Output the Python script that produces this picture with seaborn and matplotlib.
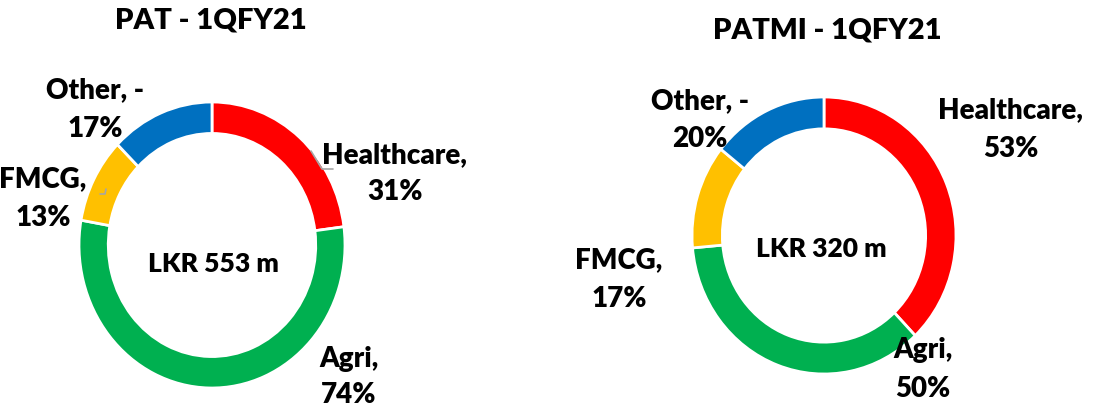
import matplotlib
matplotlib.use("Agg")
import matplotlib.pyplot as plt
import seaborn as sns

W, H = 1112, 410

categories = ["Healthcare", "Agri", "FMCG", "Other"]
colors = ["#FF0000", "#00B050", "#FFC000", "#0070C0"]

pat_values = [31, 74, 13, -17]
patmi_values = [53, 50, 17, -20]

titles = ["PAT - 1QFY21", "PATMI - 1QFY21"]
totals = ["LKR 553 m", "LKR 320 m"]

sns.set_theme(style="white")
plt.rcParams["font.family"] = ["Lato", "DejaVu Sans"]


def px(x, y):
    return x / W, 1 - y / H


# pixel layout of each donut: ring box, ring width, title, centre text, labels
layouts = [
    dict(box=(79, 103, 345, 389), ring=0.22, title=(211, 28), centre=(213, 272),
         labels=[(395, 163, 200), (349, 367, 403), (43, 187, 226), (95, 98, 137)],
         leaders=[[(311, 152), (322, 170), (333, 170)],
                  [(100, 195), (105, 195), (106, 190)]]),
    dict(box=(692, 98, 956, 375), ring=0.23, title=(827, 38), centre=(821, 257),
         labels=[(1011, 118, 157), (923, 358, 397), (619, 268, 307), (700, 109, 147)],
         leaders=[]),
]

fig = plt.figure(figsize=(W / 100, H / 100), dpi=100)

for values, title, total, lay in zip([pat_values, patmi_values], titles, totals, layouts):
    x0, y0, x1, y1 = lay["box"]
    ax = fig.add_axes([x0 / W, 1 - y1 / H, (x1 - x0) / W, (y1 - y0) / H])
    ax.pie([abs(v) for v in values], colors=colors, startangle=90, counterclock=False,
           radius=1, wedgeprops=dict(width=lay["ring"], edgecolor="white", linewidth=2))
    ax.set_aspect("auto")
    ax.set_xlim(-1, 1)
    ax.set_ylim(-1, 1)
    ax.axis("off")

    fig.text(*px(*lay["title"]), title, ha="center", va="baseline",
             fontsize=21, fontweight="heavy", color="black")
    fig.text(*px(*lay["centre"]), total, ha="center", va="baseline",
             fontsize=19, fontweight="heavy", color="black")

    for cat, v, (cx, b1, b2) in zip(categories, values, lay["labels"]):
        line1 = f"{cat}, -" if v < 0 else f"{cat},"
        fig.text(*px(cx, b1), line1, ha="center", va="baseline",
                 fontsize=20, fontweight="heavy", color="black")
        fig.text(*px(cx, b2), f"{abs(v)}%", ha="center", va="baseline",
                 fontsize=20, fontweight="heavy", color="black")

    for pts in lay["leaders"]:
        xs = [p[0] / W for p in pts]
        ys = [1 - p[1] / H for p in pts]
        fig.add_artist(plt.Line2D(xs, ys, color="#A6A6A6", linewidth=1.2))

fig.savefig("out.png", dpi=100, facecolor="white")
